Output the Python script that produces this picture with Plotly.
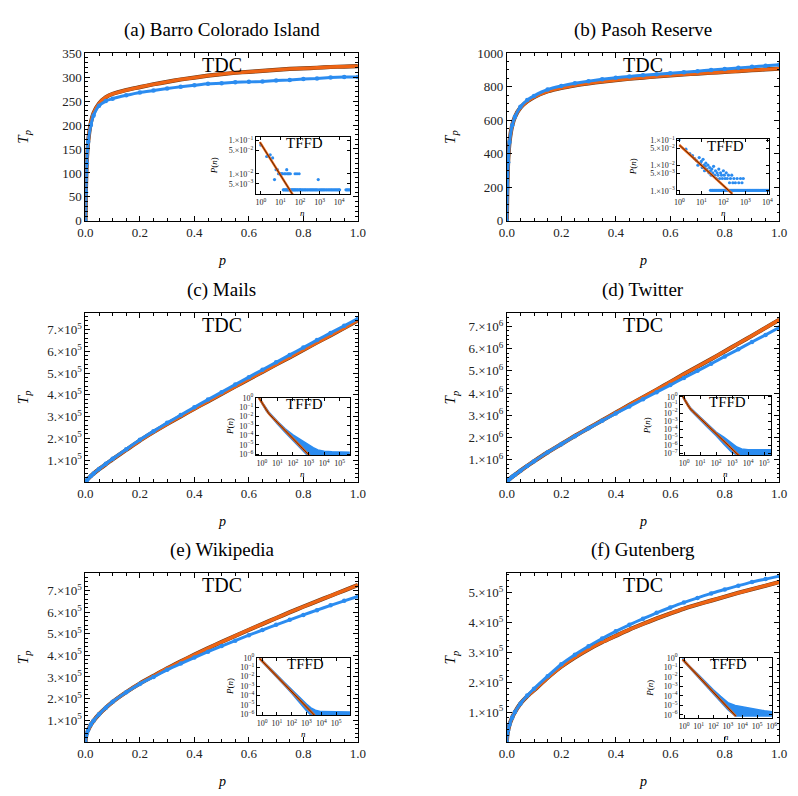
import plotly.graph_objects as go

W, H = 798, 796
SERIF = "Liberation Serif, DejaVu Serif, serif"
BLUE = "#2b8cf0"
ORANGE = "#ee6414"
DARK = "#6b3a1a"

# ---------------- main panels (TDC) ----------------
P_GRID = [0, 0.002, 0.005, 0.01, 0.02, 0.03, 0.05, 0.075, 0.1, 0.15, 0.2, 0.25, 0.3,
          0.35, 0.4, 0.45, 0.5, 0.55, 0.6, 0.65, 0.7, 0.75, 0.8, 0.85, 0.9, 0.95, 1.0]

BCI_TDC = [0, 60, 120, 165, 200, 220, 240, 250, 255, 262, 268, 272, 276, 280, 283, 286,
           287, 289, 290, 291, 293, 294, 296, 297, 299, 300, 300]
BCI_FIT = [0, 70, 125, 165, 205, 225, 245, 258, 265, 273, 279, 285, 290, 295, 299, 303,
           306, 309, 311, 313, 315, 317, 318, 319.5, 321, 322, 323]

PASOH_TDC = [0, 200, 350, 470, 570, 620, 680, 720, 745, 783, 804, 820, 833, 844, 853, 861,
             868, 874, 880, 886, 892, 900, 906, 912, 918, 924, 930]
PASOH_FIT = [0, 220, 360, 470, 570, 620, 675, 712, 738, 772, 793, 808, 820, 830, 839, 847,
             854, 861, 867, 873, 878, 883, 888, 893, 898, 903, 907]

MAILS_TDC_E5 = [0, 0.03, 0.08, 0.15, 0.27, 0.38, 0.59, 0.83, 1.06, 1.5, 1.93, 2.33, 2.71,
                3.07, 3.43, 3.78, 4.12, 4.47, 4.81, 5.15, 5.49, 5.83, 6.17, 6.51, 6.84, 7.17, 7.5]
MAILS_FIT_E5 = [0, 0.03, 0.08, 0.15, 0.27, 0.38, 0.58, 0.81, 1.04, 1.47, 1.9, 2.29, 2.66,
                3.01, 3.36, 3.7, 4.04, 4.38, 4.72, 5.05, 5.39, 5.72, 6.06, 6.4, 6.73, 7.07, 7.42]

TWITTER_TDC_E6 = [0, 0.03, 0.07, 0.13, 0.23, 0.32, 0.5, 0.72, 0.93, 1.33, 1.7, 2.06, 2.41,
                  2.75, 3.08, 3.4, 3.72, 4.04, 4.36, 4.68, 5.0, 5.32, 5.65, 5.97, 6.3, 6.62, 6.95]
TWITTER_FIT_E6 = [0, 0.03, 0.07, 0.13, 0.23, 0.32, 0.5, 0.72, 0.93, 1.33, 1.7, 2.07, 2.42,
                  2.77, 3.12, 3.47, 3.81, 4.15, 4.5, 4.85, 5.19, 5.53, 5.88, 6.23, 6.58, 6.94, 7.3]

WIKI_TDC_E5 = [0, 0.25, 0.4, 0.55, 0.8, 0.98, 1.28, 1.58, 1.85, 2.29, 2.68, 3.0, 3.33,
               3.62, 3.9, 4.17, 4.43, 4.68, 4.93, 5.17, 5.41, 5.64, 5.87, 6.09, 6.31, 6.52, 6.72]
WIKI_FIT_E5 = [0, 0.25, 0.4, 0.55, 0.8, 0.98, 1.28, 1.58, 1.85, 2.3, 2.7, 3.05, 3.4,
               3.72, 4.03, 4.33, 4.62, 4.9, 5.18, 5.45, 5.72, 5.99, 6.25, 6.5, 6.75, 7.0, 7.25]

GUT_TDC_E5 = [0, 0.25, 0.4, 0.58, 0.82, 1.0, 1.28, 1.55, 1.78, 2.2, 2.6, 2.92, 3.2,
              3.46, 3.7, 3.92, 4.12, 4.32, 4.5, 4.67, 4.82, 4.97, 5.1, 5.23, 5.35, 5.45, 5.55]
GUT_FIT_E5 = [0, 0.25, 0.4, 0.58, 0.82, 1.0, 1.28, 1.53, 1.73, 2.15, 2.52, 2.83, 3.1,
              3.34, 3.55, 3.76, 3.95, 4.13, 4.3, 4.46, 4.6, 4.73, 4.86, 4.99, 5.11, 5.23, 5.35]

TITLES = ["(a) Barro Colorado Island", "(b) Pasoh Reserve", "(c) Mails",
          "(d) Twitter", "(e) Wikipedia", "(f) Gutenberg"]

# ---------------- insets (TFFD) ----------------
BCI_N = [1, 2, 3, 4, 5, 6, 7, 8, 9, 10, 11, 12, 13, 16, 18, 21, 22, 25, 28, 32, 56, 70, 90, 850]
BCI_P = [0.073, 0.033, 0.037, 0.03, 0.0067, 0.0133, 0.0133, 0.01, 0.01, 0.01, 0.01, 0.01,
         0.01, 0.01, 0.01, 0.0133, 0.01, 0.01, 0.01, 0.01, 0.01, 0.01, 0.01, 0.0067]
BCI_FLOOR_N = [14, 15, 17, 19, 20, 23, 24, 27, 30, 35, 38, 42, 46, 50, 55, 60, 66, 75, 80, 95,
               100, 110, 125, 140, 160, 180, 200, 230, 260, 300, 340, 380, 430, 480, 550, 620,
               700, 800, 950, 1100, 1250, 1400, 1600, 1800, 2100, 2400, 2800, 3200, 3700, 4200,
               4800, 5500, 6300, 7200, 8300, 9500, 10500, 22000, 25000, 28000, 32000]
BCI_FLOOR_P = 0.0033
BCI_FIT_LOGN = [-0.05, 1.65]
BCI_FIT_LOGP = [-1.05, -2.65]

PASOH_N = [1, 2, 3, 4, 5, 6, 7, 8, 9, 10, 11, 12, 13, 14, 15, 16, 18, 20, 22, 24, 26, 28, 30,
           33, 36, 40, 44, 48, 52, 57, 62, 68, 75, 82, 90, 100, 110, 120, 135, 150, 170, 190,
           210, 240, 270, 300, 350, 420, 500, 600, 700, 800]
PASOH_P = [0.11, 0.045, 0.03, 0.025, 0.019, 0.016, 0.0105, 0.021, 0.0126, 0.0147, 0.0084,
           0.0178, 0.0105, 0.0063, 0.0094, 0.0126, 0.0073, 0.0105, 0.0052, 0.0084, 0.0063,
           0.0042, 0.0073, 0.0052, 0.0094, 0.0042, 0.0063, 0.0031, 0.0052, 0.0042, 0.0073,
           0.0031, 0.0052, 0.0042, 0.0031, 0.0063, 0.0042, 0.0031, 0.0052, 0.0031, 0.0042,
           0.0021, 0.0031, 0.0042, 0.0021, 0.0031, 0.0021, 0.0031, 0.0021, 0.0031, 0.0021, 0.0031]
PASOH_FLOOR_N = [26, 30, 33, 37, 41, 46, 51, 57, 63, 70, 78, 87, 97, 108, 120, 134, 150, 167,
                 186, 207, 231, 257, 286, 319, 355, 395, 440, 490, 546, 608, 677, 754, 840, 935,
                 1040, 1160, 1290, 1440, 1600, 1780, 1990, 2210, 2460, 2740, 3050, 3400, 3790,
                 4220, 4700, 5230, 5830, 6490, 7230, 8050, 8960, 9980, 11000]
PASOH_FLOOR_P = 0.00105
PASOH_FIT_LOGN = [0.0, 2.41]
PASOH_FIT_LOGP = [-1.18, -3.12]

MAILS_FIT_LOGN = [-0.19, 0.0, 0.15, 0.3, 0.49, 1.0, 1.5, 2.0, 2.5, 3.0, 3.08]
MAILS_FIT_LOGP = [0.0, -0.5, -0.9, -1.3, -1.76, -2.63, -3.49, -4.34, -5.2, -6.05, -6.2]
MAILS_BAND_LOGN = [-0.19, 0.0, 0.3, 0.49, 1.0, 1.5, 2.0, 2.5, 2.9, 3.3, 3.6, 4.0, 4.5, 5.0, 5.6]
MAILS_BAND_HI = [0.05, -0.4, -1.15, -1.6, -2.5, -3.3, -3.95, -4.5, -4.9, -5.3, -5.55, -5.7,
                 -5.75, -5.8, -5.8]
MAILS_BAND_LO = [-0.05, -0.6, -1.45, -1.9, -2.8, -3.7, -4.6, -5.4, -6.1, -6.1, -6.1, -6.1,
                 -6.1, -6.1, -6.1]

TW_FIT_LOGN = [-0.1, 0.1, 0.25, 0.41, 1.0, 1.5, 2.0, 2.5, 3.0, 3.31, 3.45]
TW_FIT_LOGP = [0.1, -0.6, -1.1, -1.54, -2.66, -3.61, -4.56, -5.51, -6.46, -7.05, -7.3]
TW_BAND_LOGN = [-0.1, 0.1, 0.41, 1.0, 1.5, 2.0, 2.5, 3.0, 3.3, 3.6, 4.0, 4.5, 5.0, 5.4]
TW_BAND_HI = [0.15, -0.5, -1.4, -2.5, -3.4, -4.35, -5.0, -5.7, -6.2, -6.45, -6.55, -6.55,
              -6.55, -6.55]
TW_BAND_LO = [0.0, -0.7, -1.7, -2.85, -3.85, -4.8, -5.9, -6.9, -7.2, -7.1, -7.1, -7.1,
              -7.1, -7.1]

WK_FIT_LOGN = [-0.17, 3.55]
WK_FIT_LOGP = [-0.07, -6.1]
WK_BAND_LOGN = [-0.17, 0.3, 1.0, 1.5, 2.0, 2.5, 3.0, 3.3, 3.6, 4.0, 4.5, 5.0, 5.5, 5.9]
WK_BAND_HI = [0.0, -0.7, -1.8, -2.6, -3.4, -4.2, -4.9, -5.3, -5.55, -5.7, -5.72, -5.75,
              -5.75, -5.75]
WK_BAND_LO = [-0.15, -0.9, -2.05, -2.9, -3.75, -4.65, -5.6, -6.08, -6.08, -6.08, -6.08,
              -6.08, -6.08, -6.08]

GB_FIT_LOGN = [-0.11, 3.55]
GB_FIT_LOGP = [-0.17, -6.13]
GB_BAND_LOGN = [-0.11, 0.3, 1.0, 1.5, 2.0, 2.5, 3.0, 3.5, 4.0, 4.5, 5.0, 5.5, 6.0]
GB_BAND_HI = [-0.05, -0.75, -1.8, -2.6, -3.35, -4.05, -4.7, -5.0, -5.15, -5.3, -5.4,
              -5.55, -5.65]
GB_BAND_LO = [-0.25, -0.95, -2.05, -2.9, -3.75, -4.6, -5.45, -6.1, -6.1, -6.1, -6.1,
              -6.1, -6.1]


def sup(txt):
    return txt.replace("-", "\u2212")


def pow_label(e):
    return "10<sup>%s</sup>" % sup(str(e))


def mant_label(m, e):
    return "%d.\u00d710<sup>%s</sup>" % (m, sup(str(e)))


def dx(a, b):
    return [a / W, b / W]


def dy(top, bottom):
    return [1 - bottom / H, 1 - top / H]


LEFT = (79, 357)
RIGHT = (509, 787)
ROWS = [(47, 218), (312, 484), (577, 749)]

main_specs = [
    dict(xs=LEFT, ys=ROWS[0], tdc=BCI_TDC, fit=BCI_FIT, scale=1, yr=[0, 350],
         tv=[0, 50, 100, 150, 200, 250, 300, 350], tt=None, minor=10),
    dict(xs=RIGHT, ys=ROWS[0], tdc=PASOH_TDC, fit=PASOH_FIT, scale=1, yr=[0, 1000],
         tv=[0, 200, 400, 600, 800, 1000], tt=None, minor=50),
    dict(xs=LEFT, ys=ROWS[1], tdc=MAILS_TDC_E5, fit=MAILS_FIT_E5, scale=1e5, yr=[0, 7.75e5],
         tv=[k * 1e5 for k in range(1, 8)], tt=[mant_label(k, 5) for k in range(1, 8)], minor=2e4),
    dict(xs=RIGHT, ys=ROWS[1], tdc=TWITTER_TDC_E6, fit=TWITTER_FIT_E6, scale=1e6, yr=[0, 7.6e6],
         tv=[k * 1e6 for k in range(1, 8)], tt=[mant_label(k, 6) for k in range(1, 8)], minor=2e5),
    dict(xs=LEFT, ys=ROWS[2], tdc=WIKI_TDC_E5, fit=WIKI_FIT_E5, scale=1e5, yr=[0, 7.8e5],
         tv=[k * 1e5 for k in range(1, 8)], tt=[mant_label(k, 5) for k in range(1, 8)], minor=2e4),
    dict(xs=RIGHT, ys=ROWS[2], tdc=GUT_TDC_E5, fit=GUT_FIT_E5, scale=1e5, yr=[0, 5.65e5],
         tv=[k * 1e5 for k in range(1, 6)], tt=[mant_label(k, 5) for k in range(1, 6)], minor=2e4),
]

inset_specs = [
    dict(xs=(253, 349), ys=(132, 191), xr=[-0.25, 4.55], yr=[-2.62, -0.88], xe=range(0, 5),
         yv=[0.1, 0.05, 0.01, 0.005],
         yt=[mant_label(1, -1), mant_label(5, -2), mant_label(1, -2), mant_label(5, -3)],
         plab=211),
    dict(xs=(683, 777), ys=(135, 191), xr=[-0.09, 4.09], yr=[-3.14, -0.96], xe=range(0, 5),
         yv=[0.1, 0.05, 0.01, 0.005, 0.001],
         yt=[mant_label(1, -1), mant_label(5, -2), mant_label(1, -2), mant_label(5, -3),
             mant_label(1, -3)], plab=638),
    dict(xs=(253, 349), ys=(398, 457), xr=[-0.38, 5.66], yr=[-6.13, 0.03], xe=range(0, 6),
         yv=[10 ** -k for k in range(0, 7)], yt=[pow_label(-k) for k in range(0, 7)], plab=227),
    dict(xs=(686, 779), ys=(396, 457), xr=[-0.25, 5.46], yr=[-7.24, 0.16], xe=range(0, 6),
         yv=[10 ** -k for k in range(0, 8)], yt=[pow_label(-k) for k in range(0, 8)], plab=653),
    dict(xs=(254, 349), ys=(663, 722), xr=[-0.35, 5.94], yr=[-6.1, 0.03], xe=range(0, 6),
         yv=[10 ** -k for k in range(0, 7)], yt=[pow_label(-k) for k in range(0, 7)], plab=227),
    dict(xs=(686, 780), ys=(663, 725), xr=[-0.27, 6.05], yr=[-6.35, 0.03], xe=range(0, 7),
         yv=[10 ** -k for k in range(0, 7)], yt=[pow_label(-k) for k in range(0, 7)], plab=655),
]

fig = go.Figure()
layout = dict(width=W, height=H, margin=dict(l=0, r=0, t=0, b=0),
              paper_bgcolor="white", plot_bgcolor="white", showlegend=False)
annotations = []


def ann(text, x, y, size, angle=0):
    annotations.append(dict(text=text, x=x / W, y=1 - y / H, xref="paper", yref="paper",
                            showarrow=False, textangle=angle, xanchor="center",
                            yanchor="middle", font=dict(family=SERIF, size=size, color="black")))


for i, s in enumerate(main_specs):
    k = i + 1
    xa, ya = "x%d" % k, "y%d" % k
    fit_y = [v * s["scale"] for v in s["fit"]]
    tdc_y = [v * s["scale"] for v in s["tdc"]]
    fig.add_trace(go.Scatter(x=P_GRID, y=fit_y, mode="lines", xaxis=xa, yaxis=ya,
                             line=dict(color=DARK, width=4.2, shape="spline", smoothing=0.5)))
    fig.add_trace(go.Scatter(x=P_GRID, y=fit_y, mode="lines", xaxis=xa, yaxis=ya,
                             line=dict(color=ORANGE, width=3.3, shape="spline", smoothing=0.5)))
    fig.add_trace(go.Scatter(x=P_GRID, y=tdc_y, mode="lines+markers", xaxis=xa, yaxis=ya,
                             line=dict(color=BLUE, width=3, shape="spline", smoothing=0.5),
                             marker=dict(color=BLUE, size=4.5)))
    xkey = "xaxis" if k == 1 else "xaxis%d" % k
    ykey = "yaxis" if k == 1 else "yaxis%d" % k
    layout[xkey] = dict(domain=dx(*s["xs"]), anchor=ya, range=[0, 1], tick0=0, dtick=0.2,
                        tickformat=".1f", ticks="inside", ticklen=5, tickcolor="black",
                        showline=True, linecolor="black", linewidth=1, mirror="ticks",
                        showgrid=False, zeroline=False,
                        tickfont=dict(family=SERIF, size=13, color="#222"),
                        minor=dict(ticks="inside", ticklen=2.5, dtick=0.05, tick0=0,
                                   tickcolor="black", showgrid=False))
    yax = dict(domain=dy(*s["ys"]), anchor=xa, range=s["yr"], ticks="inside", ticklen=5,
               tickcolor="black", showline=True, linecolor="black", linewidth=1,
               mirror="ticks", showgrid=False, zeroline=False,
               tickfont=dict(family=SERIF, size=13, color="#222"),
               minor=dict(ticks="inside", ticklen=2.5, dtick=s["minor"], tick0=0,
                          tickcolor="black", showgrid=False))
    if s["tt"] is None:
        yax.update(tickmode="array", tickvals=s["tv"], ticktext=[str(v) for v in s["tv"]])
    else:
        yax.update(tickmode="array", tickvals=s["tv"], ticktext=s["tt"])
    layout[ykey] = yax

    cx = (s["xs"][0] + s["xs"][1]) / 2
    ann(TITLES[i], cx, s["ys"][0] - 24, 19)
    ann("TDC", cx, s["ys"][0] + 12, 20)
    ann("<i>p</i>", cx, s["ys"][1] + 40, 14)
    tpx = 16 if s["xs"][0] < 400 else 452
    ann("<i>T<sub>p</sub></i>", tpx, (s["ys"][0] + s["ys"][1]) / 2, 15, -90)

# ---------------- insets ----------------
inset_data = [
    ("pts", BCI_N, BCI_P, BCI_FLOOR_N, BCI_FLOOR_P, BCI_FIT_LOGN, BCI_FIT_LOGP),
    ("pts", PASOH_N, PASOH_P, PASOH_FLOOR_N, PASOH_FLOOR_P, PASOH_FIT_LOGN, PASOH_FIT_LOGP),
    ("band", MAILS_BAND_LOGN, MAILS_BAND_HI, MAILS_BAND_LO, None, MAILS_FIT_LOGN, MAILS_FIT_LOGP),
    ("band", TW_BAND_LOGN, TW_BAND_HI, TW_BAND_LO, None, TW_FIT_LOGN, TW_FIT_LOGP),
    ("band", WK_BAND_LOGN, WK_BAND_HI, WK_BAND_LO, None, WK_FIT_LOGN, WK_FIT_LOGP),
    ("band", GB_BAND_LOGN, GB_BAND_HI, GB_BAND_LO, None, GB_FIT_LOGN, GB_FIT_LOGP),
]

for i, (s, d) in enumerate(zip(inset_specs, inset_data)):
    k = i + 7
    xa, ya = "x%d" % k, "y%d" % k
    kind = d[0]
    if kind == "pts":
        _, n, p, fn, fp, fln, flp = d
        fig.add_trace(go.Scatter(x=n, y=p, mode="markers", xaxis=xa, yaxis=ya,
                                 marker=dict(color=BLUE, size=3.2)))
        fig.add_trace(go.Scatter(x=fn, y=[fp] * len(fn), mode="markers", xaxis=xa, yaxis=ya,
                                 marker=dict(color=BLUE, size=3.2)))
    else:
        _, ln, hi, lo, _, fln, flp = d
        bx = [10 ** v for v in ln] + [10 ** v for v in ln[::-1]]
        by = [10 ** v for v in hi] + [10 ** v for v in lo[::-1]]
        fig.add_trace(go.Scatter(x=bx, y=by, mode="lines", fill="toself", fillcolor=BLUE,
                                 xaxis=xa, yaxis=ya, line=dict(color=BLUE, width=1.5)))
    fx_ = [10 ** v for v in fln]
    fy_ = [10 ** v for v in flp]
    fig.add_trace(go.Scatter(x=fx_, y=fy_, mode="lines", xaxis=xa, yaxis=ya,
                             line=dict(color=ORANGE, width=2.4, shape="spline", smoothing=0.6)))
    fig.add_trace(go.Scatter(x=fx_, y=fy_, mode="lines", xaxis=xa, yaxis=ya,
                             line=dict(color="#3a1a00", width=0.8, shape="spline", smoothing=0.6)))
    xv = [10 ** e for e in s["xe"]]
    layout["xaxis%d" % k] = dict(domain=dx(*s["xs"]), anchor=ya, type="log", range=s["xr"],
                                 tickmode="array", tickvals=xv,
                                 ticktext=[pow_label(e) for e in s["xe"]],
                                 ticks="inside", ticklen=3, tickcolor="black",
                                 showline=True, linecolor="black", linewidth=1, mirror="ticks",
                                 showgrid=False, zeroline=False,
                                 tickfont=dict(family=SERIF, size=8, color="#222"))
    layout["yaxis%d" % k] = dict(domain=dy(*s["ys"]), anchor=xa, type="log", range=s["yr"],
                                 tickmode="array", tickvals=s["yv"], ticktext=s["yt"],
                                 ticks="inside", ticklen=3, tickcolor="black",
                                 showline=True, linecolor="black", linewidth=1, mirror="ticks",
                                 showgrid=False, zeroline=False,
                                 tickfont=dict(family=SERIF, size=8, color="#222"))
    cx = (s["xs"][0] + s["xs"][1]) / 2
    ann("TFFD", cx + 2, s["ys"][0] + 7, 15)
    ann("<i>n</i>", cx, s["ys"][1] + 19, 9)
    ann("<i>P</i>(<i>n</i>)", s["plab"], (s["ys"][0] + s["ys"][1]) / 2, 9, -90)

layout["annotations"] = annotations
fig.update_layout(**layout)
fig.write_html("out.html",
               config={"displayModeBar": False, "staticPlot": True},
               post_script="document.body.style.margin='0px';"
                           "document.body.style.overflow='hidden';")
